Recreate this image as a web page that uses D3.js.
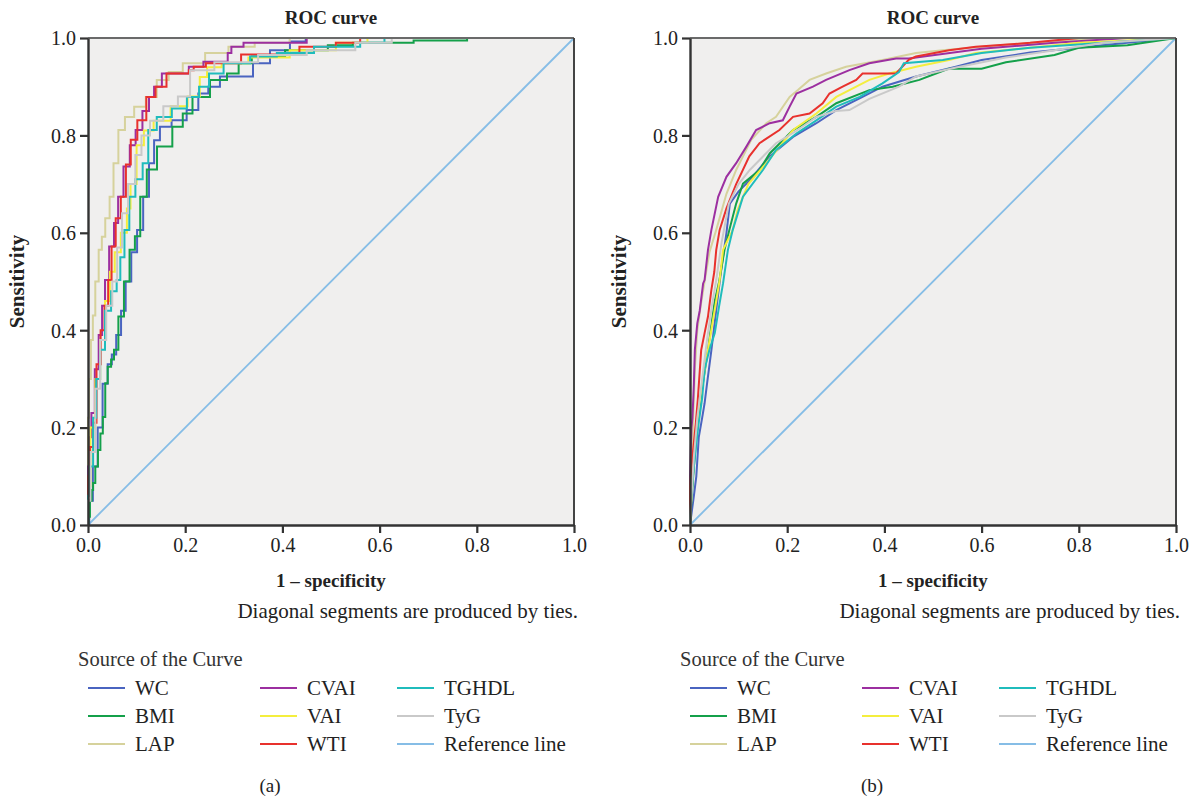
<!DOCTYPE html>
<html>
<head>
<meta charset="utf-8">
<script src="https://cdn.jsdelivr.net/npm/d3@7"></script>
<style>
  body { margin: 0; background: #fff; }
  svg { display: block; font-family: "Liberation Serif", "Times New Roman", serif; }
</style>
</head>
<body>
<div id="chart"></div>
<script>
// ---- data: [1 - specificity, sensitivity] ----
const ticks = [0, 0.2, 0.4, 0.6, 0.8, 1.0];
const series = ["WC", "BMI", "LAP", "CVAI", "VAI", "WTI", "TGHDL", "TyG"];
const legendCols = [["WC", "BMI", "LAP"], ["CVAI", "VAI", "WTI"], ["TGHDL", "TyG", "Reference line"]];
const refLine = [[0, 0], [1, 1]];

const a_WC = [[0,0],[0.005,0.05],[0.015,0.12],[0.025,0.2],[0.035,0.29],[0.046,0.33],[0.052,0.35],[0.064,0.39],[0.072,0.44],[0.083,0.5],[0.095,0.56],[0.107,0.606],[0.12,0.674],[0.131,0.743],[0.141,0.79],[0.155,0.818],[0.189,0.831],[0.217,0.852],[0.237,0.886],[0.258,0.9],[0.285,0.921],[0.325,0.921],[0.354,0.948],[0.395,0.975],[0.436,0.993],[0.46,1],[1,1]];
const a_BMI = [[0,0],[0.002,0.017],[0.006,0.05],[0.009,0.072],[0.012,0.086],[0.018,0.12],[0.023,0.154],[0.028,0.188],[0.033,0.222],[0.038,0.291],[0.043,0.325],[0.052,0.34],[0.055,0.36],[0.07,0.428],[0.078,0.5],[0.093,0.565],[0.1,0.593],[0.115,0.674],[0.127,0.73],[0.157,0.777],[0.19,0.818],[0.2,0.845],[0.23,0.879],[0.272,0.914],[0.3,0.927],[0.32,0.948],[0.354,0.962],[0.457,0.975],[0.53,0.985],[0.56,0.99],[0.78,0.995],[0.78,1],[1,1]];
const a_LAP = [[0,0],[0,0.22],[0.004,0.3],[0.008,0.38],[0.012,0.43],[0.018,0.5],[0.026,0.565],[0.031,0.592],[0.04,0.63],[0.049,0.674],[0.056,0.743],[0.069,0.811],[0.083,0.838],[0.107,0.859],[0.131,0.879],[0.152,0.914],[0.18,0.93],[0.21,0.948],[0.272,0.969],[0.306,0.982],[0.38,0.99],[0.45,1],[1,1]];
const a_CVAI = [[0,0],[0,0.12],[0.004,0.18],[0.01,0.23],[0.018,0.32],[0.026,0.39],[0.032,0.45],[0.038,0.503],[0.049,0.572],[0.058,0.62],[0.066,0.674],[0.08,0.736],[0.092,0.78],[0.104,0.811],[0.12,0.85],[0.131,0.879],[0.141,0.9],[0.163,0.927],[0.205,0.927],[0.21,0.941],[0.225,0.941],[0.25,0.951],[0.285,0.951],[0.29,0.969],[0.3,0.982],[0.34,0.99],[0.45,0.99],[0.45,1],[1,1]];
const a_VAI = [[0,0],[0,0.08],[0.01,0.2],[0.02,0.3],[0.03,0.38],[0.04,0.46],[0.05,0.52],[0.06,0.56],[0.075,0.6],[0.085,0.65],[0.09,0.7],[0.11,0.78],[0.12,0.81],[0.15,0.83],[0.19,0.86],[0.22,0.88],[0.24,0.92],[0.25,0.94],[0.3,0.948],[0.36,0.96],[0.47,0.975],[0.55,0.99],[0.6,1],[1,1]];
const a_WTI = [[0,0],[0,0.1],[0.008,0.16],[0.013,0.21],[0.022,0.33],[0.03,0.4],[0.038,0.45],[0.045,0.503],[0.052,0.572],[0.062,0.63],[0.073,0.674],[0.083,0.74],[0.093,0.791],[0.11,0.831],[0.13,0.879],[0.148,0.9],[0.175,0.927],[0.205,0.927],[0.21,0.934],[0.225,0.941],[0.26,0.948],[0.31,0.948],[0.32,0.966],[0.43,0.966],[0.44,0.982],[0.5,0.982],[0.52,0.99],[0.6,1],[1,1]];
const a_TGHDL = [[0,0],[0,0.06],[0.007,0.12],[0.014,0.22],[0.02,0.3],[0.03,0.36],[0.04,0.44],[0.055,0.48],[0.063,0.503],[0.07,0.55],[0.08,0.606],[0.09,0.674],[0.105,0.71],[0.12,0.743],[0.128,0.811],[0.155,0.838],[0.19,0.855],[0.217,0.879],[0.24,0.9],[0.258,0.927],[0.3,0.948],[0.367,0.962],[0.41,0.969],[0.52,0.982],[0.6,0.99],[0.62,1],[1,1]];
const a_TyG = [[0,0],[0,0.05],[0.01,0.15],[0.02,0.28],[0.03,0.38],[0.045,0.45],[0.055,0.5],[0.065,0.57],[0.075,0.64],[0.09,0.7],[0.105,0.76],[0.115,0.8],[0.14,0.83],[0.17,0.86],[0.2,0.88],[0.22,0.934],[0.3,0.95],[0.4,0.965],[0.5,0.975],[0.6,0.99],[0.65,1],[1,1]];

const b_WC = [[0,0],[0.004,0.03],[0.008,0.06],[0.013,0.1],[0.018,0.18],[0.025,0.22],[0.03,0.25],[0.035,0.29],[0.044,0.359],[0.055,0.45],[0.065,0.53],[0.075,0.6],[0.082,0.66],[0.1,0.685],[0.123,0.708],[0.164,0.757],[0.212,0.797],[0.26,0.825],[0.301,0.852],[0.355,0.879],[0.396,0.9],[0.465,0.921],[0.547,0.941],[0.6,0.955],[0.7,0.97],[0.8,0.98],[0.9,0.99],[1,1]];
const b_BMI = [[0,0],[0.003,0.05],[0.008,0.12],[0.015,0.2],[0.025,0.28],[0.037,0.36],[0.051,0.46],[0.06,0.5],[0.071,0.565],[0.081,0.606],[0.095,0.66],[0.109,0.701],[0.143,0.729],[0.164,0.763],[0.212,0.811],[0.26,0.838],[0.301,0.866],[0.369,0.893],[0.417,0.9],[0.472,0.914],[0.506,0.927],[0.533,0.937],[0.6,0.937],[0.65,0.95],[0.75,0.965],[0.8,0.98],[0.9,0.985],[1,1]];
const b_LAP = [[0,0],[0.002,0.1],[0.006,0.2],[0.01,0.32],[0.015,0.4],[0.022,0.45],[0.03,0.5],[0.04,0.56],[0.054,0.606],[0.075,0.68],[0.095,0.729],[0.126,0.791],[0.157,0.825],[0.177,0.838],[0.205,0.879],[0.222,0.893],[0.246,0.914],[0.28,0.927],[0.321,0.941],[0.396,0.955],[0.465,0.969],[0.52,0.975],[0.6,0.982],[0.7,0.99],[0.85,1],[1,1]];
const b_CVAI = [[0,0],[0,0.1],[0.003,0.2],[0.005,0.22],[0.008,0.29],[0.01,0.36],[0.015,0.414],[0.02,0.44],[0.027,0.496],[0.03,0.503],[0.037,0.565],[0.044,0.606],[0.058,0.674],[0.075,0.715],[0.095,0.743],[0.116,0.777],[0.136,0.811],[0.164,0.825],[0.191,0.831],[0.205,0.859],[0.219,0.886],[0.253,0.9],[0.28,0.914],[0.328,0.934],[0.369,0.948],[0.424,0.958],[0.45,0.958],[0.6,0.978],[0.75,0.99],[0.9,1],[1,1]];
const b_VAI = [[0,0],[0.004,0.08],[0.01,0.16],[0.018,0.24],[0.027,0.3],[0.037,0.36],[0.054,0.46],[0.061,0.503],[0.068,0.565],[0.088,0.606],[0.098,0.647],[0.12,0.7],[0.157,0.743],[0.212,0.811],[0.26,0.845],[0.301,0.879],[0.369,0.914],[0.41,0.927],[0.465,0.941],[0.533,0.955],[0.588,0.969],[0.7,0.98],[0.8,0.99],[0.9,0.995],[1,1]];
const b_WTI = [[0,0],[0,0.08],[0.005,0.14],[0.012,0.21],[0.016,0.257],[0.023,0.359],[0.03,0.394],[0.037,0.428],[0.044,0.483],[0.05,0.52],[0.054,0.565],[0.061,0.606],[0.075,0.65],[0.095,0.7],[0.122,0.757],[0.143,0.784],[0.184,0.811],[0.212,0.838],[0.246,0.845],[0.273,0.866],[0.287,0.886],[0.314,0.9],[0.342,0.914],[0.355,0.927],[0.424,0.927],[0.45,0.955],[0.465,0.962],[0.533,0.975],[0.588,0.982],[0.7,0.99],[0.8,1],[1,1]];
const b_TGHDL = [[0,0],[0.002,0.05],[0.006,0.1],[0.012,0.16],[0.018,0.21],[0.025,0.26],[0.03,0.32],[0.04,0.36],[0.051,0.394],[0.06,0.45],[0.068,0.496],[0.078,0.565],[0.088,0.606],[0.109,0.674],[0.15,0.729],[0.177,0.77],[0.219,0.804],[0.26,0.831],[0.301,0.859],[0.349,0.879],[0.396,0.907],[0.43,0.93],[0.44,0.948],[0.52,0.955],[0.6,0.969],[0.7,0.98],[0.85,0.99],[1,1]];
const b_TyG = [[0,0],[0.003,0.06],[0.008,0.14],[0.015,0.22],[0.025,0.3],[0.035,0.38],[0.045,0.45],[0.054,0.503],[0.065,0.58],[0.08,0.66],[0.1,0.7],[0.123,0.729],[0.177,0.784],[0.22,0.81],[0.26,0.838],[0.3,0.85],[0.328,0.852],[0.369,0.875],[0.43,0.9],[0.465,0.921],[0.55,0.94],[0.65,0.96],[0.75,0.975],[0.85,0.99],[1,1]];

const panelA = { WC: a_WC, BMI: a_BMI, LAP: a_LAP, CVAI: a_CVAI, VAI: a_VAI, WTI: a_WTI, TGHDL: a_TGHDL, TyG: a_TyG };
const panelB = { WC: b_WC, BMI: b_BMI, LAP: b_LAP, CVAI: b_CVAI, VAI: b_VAI, WTI: b_WTI, TGHDL: b_TGHDL, TyG: b_TyG };

const colors = {
  "WC": "#4a64c0",
  "BMI": "#14a04a",
  "LAP": "#d6d29c",
  "CVAI": "#9c2fa0",
  "VAI": "#f4ee3e",
  "WTI": "#e8312d",
  "TGHDL": "#1fbcbc",
  "TyG": "#c9c9c9",
  "Reference line": "#86bde6"
};

const W = 1194, H = 797;
const svg = d3.select("#chart").append("svg")
  .attr("width", W)
  .attr("height", H);

function drawPanel(x0, data, caption, stepped) {
  const plotW = 486, plotH = 487, y0 = 38;
  const x = d3.scaleLinear().domain([0, 1]).range([x0, x0 + plotW]);
  const y = d3.scaleLinear().domain([0, 1]).range([y0 + plotH, y0]);

  const g = svg.append("g");

  g.append("rect")
    .attr("x", x0).attr("y", y0)
    .attr("width", plotW).attr("height", plotH)
    .attr("fill", "#f0efee");

  // reference diagonal
  g.append("path")
    .datum(refLine)
    .attr("fill", "none")
    .attr("stroke", colors["Reference line"])
    .attr("stroke-width", 1.8)
    .attr("d", d3.line().x(d => x(d[0])).y(d => y(d[1])));

  const line = d3.line()
    .x(d => x(d[0]))
    .y(d => y(d[1]))
    .curve(stepped ? d3.curveStep : d3.curveLinear);

  g.append("g")
    .selectAll("path")
    .data(series)
    .join("path")
    .attr("fill", "none")
    .attr("stroke", d => colors[d])
    .attr("stroke-width", 2)
    .attr("stroke-linejoin", "miter")
    .attr("d", d => line(data[d]));

  // frame
  g.append("line").attr("x1", x0).attr("x2", x0 + plotW).attr("y1", y0).attr("y2", y0)
    .attr("stroke", "#6a6a6a").attr("stroke-width", 2);
  g.append("line").attr("x1", x0 + plotW).attr("x2", x0 + plotW).attr("y1", y0).attr("y2", y0 + plotH)
    .attr("stroke", "#444").attr("stroke-width", 2);

  const xAxis = d3.axisBottom(x).tickValues(ticks).tickFormat(d3.format(".1f"))
    .tickSizeInner(8).tickSizeOuter(0).tickPadding(5);
  const yAxis = d3.axisLeft(y).tickValues(ticks).tickFormat(d3.format(".1f"))
    .tickSizeInner(8).tickSizeOuter(0).tickPadding(4);

  const gx = g.append("g").attr("transform", `translate(0,${y0 + plotH})`).call(xAxis);
  const gy = g.append("g").attr("transform", `translate(${x0},0)`).call(yAxis);
  [gx, gy].forEach(a => {
    a.select(".domain").attr("stroke", "#333").attr("stroke-width", 2.4);
    a.selectAll(".tick line").attr("stroke", "#333").attr("stroke-width", 2.2);
    a.selectAll(".tick text")
      .attr("fill", "#222")
      .style("font-family", "'Liberation Serif', serif")
      .style("font-size", "20px");
  });
  gy.selectAll(".tick text").attr("dy", "0.34em");

  const cx = x0 + plotW / 2;
  g.append("text")
    .attr("x", cx).attr("y", 24)
    .attr("text-anchor", "middle")
    .attr("font-weight", "bold")
    .attr("font-size", 19)
    .attr("fill", "#222")
    .text("ROC curve");

  g.append("text")
    .attr("x", cx).attr("y", 587)
    .attr("text-anchor", "middle")
    .attr("font-weight", "bold")
    .attr("font-size", 19)
    .attr("fill", "#222")
    .text("1 \u2013 specificity");

  g.append("text")
    .attr("transform", `translate(${x0 - 64},${y0 + plotH / 2}) rotate(-90)`)
    .attr("text-anchor", "middle")
    .attr("font-weight", "bold")
    .attr("font-size", 21)
    .attr("fill", "#222")
    .text("Sensitivity");

  g.append("text")
    .attr("x", x0 + plotW + 4).attr("y", 618)
    .attr("text-anchor", "end")
    .attr("font-size", 21)
    .attr("fill", "#222")
    .text("Diagonal segments are produced by ties.");

  // legend
  const lg = g.append("g").attr("transform", `translate(${x0},0)`);
  lg.append("text")
    .attr("x", -10).attr("y", 666)
    .attr("font-size", 20.5)
    .attr("fill", "#333")
    .text("Source of the Curve");

  const colX = [0, 172, 309];
  legendCols.forEach((col, ci) => {
    col.forEach((name, ri) => {
      const ly = 688 + ri * 28;
      lg.append("line")
        .attr("x1", colX[ci]).attr("x2", colX[ci] + 37)
        .attr("y1", ly).attr("y2", ly)
        .attr("stroke", colors[name])
        .attr("stroke-width", 2.2);
      lg.append("text")
        .attr("x", colX[ci] + 47).attr("y", ly + 7)
        .attr("font-size", 21)
        .attr("fill", "#222")
        .text(name);
    });
  });

  g.append("text")
    .attr("x", x0 + 182).attr("y", 792)
    .attr("text-anchor", "middle")
    .attr("font-size", 19)
    .attr("fill", "#222")
    .text(caption);
}

drawPanel(88, panelA, "(a)", true);
drawPanel(690, panelB, "(b)", false);
</script>
</body>
</html>
